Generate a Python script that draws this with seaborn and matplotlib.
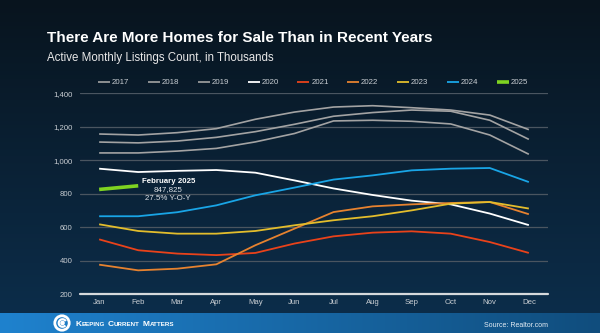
import numpy as np
import pandas as pd
import matplotlib
matplotlib.use("Agg")
import matplotlib.pyplot as plt
import seaborn as sns
from matplotlib.patches import Circle, Arc

# ---- data (thousands of active listings) ----
months = ["Jan", "Feb", "Mar", "Apr", "May", "Jun",
          "Jul", "Aug", "Sep", "Oct", "Nov", "Dec"]
years = ["2017", "2018", "2019", "2020", "2021", "2022", "2023", "2024", "2025"]

listings_2017 = [1157, 1151, 1165, 1189, 1245, 1288, 1318, 1326, 1314, 1300, 1270, 1183]
listings_2018 = [1109, 1104, 1115, 1137, 1171, 1215, 1263, 1285, 1300, 1293, 1239, 1125]
listings_2019 = [1044, 1044, 1055, 1071, 1110, 1160, 1235, 1239, 1233, 1217, 1151, 1036]
listings_2020 = [950, 930, 937, 942, 926, 880, 832, 793, 759, 737, 682, 613]
listings_2021 = [528, 463, 443, 434, 447, 503, 546, 568, 576, 562, 512, 447]
listings_2022 = [377, 343, 353, 379, 493, 592, 691, 725, 737, 745, 751, 678]
listings_2023 = [618, 578, 562, 562, 578, 612, 642, 666, 701, 741, 751, 712]
listings_2024 = [666, 666, 690, 731, 791, 837, 885, 910, 940, 950, 954, 870]
listings_2025 = [826, 847.825]

yoy_feb_2025 = 27.5
y_ticks = [200, 400, 600, 800, 1000, 1200, 1400]

series = [listings_2017, listings_2018, listings_2019, listings_2020, listings_2021,
          listings_2022, listings_2023, listings_2024, listings_2025]
colors = ["#a3a3a3", "#a3a3a3", "#a3a3a3", "#ffffff", "#e9421a",
          "#e6822f", "#e3bd2c", "#19a5e6", "#7fd321"]
widths = [1.2, 1.2, 1.2, 1.3, 1.3, 1.3, 1.3, 1.3, 2.6]

W, H = 600, 333
DPI = 100
sns.set_style("dark")
plt.rcParams["font.family"] = ["Liberation Sans", "DejaVu Sans"]

fig = plt.figure(figsize=(W / DPI, H / DPI), dpi=DPI)

# background: dark navy gradient with a blue footer band
bg = fig.add_axes([0, 0, 1, 1], zorder=0)
bg.set_xlim(0, W)
bg.set_ylim(H, 0)
bg.axis("off")
t = np.linspace(0, 1, 256)[:, None]
top = np.array([0x08, 0x14, 0x1e]) / 255
bot = np.array([0x0c, 0x2d, 0x4a]) / 255
grad = top + (bot - top) * t[..., None]
grad = np.repeat(grad, 2, axis=1)
bg.imshow(grad, extent=(0, W, 313, 0), aspect="auto", interpolation="bicubic")
u = np.linspace(0, 1, 256)[None, :]
left_c = np.array([0x1f, 0x82, 0xce]) / 255
right_c = np.array([0x10, 0x4d, 0x7d]) / 255
foot = left_c + (right_c - left_c) * u[..., None]
foot = np.repeat(foot, 2, axis=0)
bg.imshow(foot, extent=(0, W, H, 313), aspect="auto", interpolation="bicubic")

# logo mark
bg.add_patch(Circle((62, 323), 7.2, fill=False, ec="white", lw=2.0))
bg.add_patch(Arc((62.5, 323), 7.5, 7.5, theta1=40, theta2=330, ec="white", lw=1.6))
bg.add_patch(Circle((62.5, 323), 1.6, color="white"))

# small-caps brand name
fig.canvas.draw()
renderer = fig.canvas.get_renderer()
x_cursor = 75.5
for word in ["Keeping", "Current", "Matters"]:
    for part, size in [(word[0], 6.0), (word[1:].upper(), 4.5)]:
        txt = bg.text(x_cursor, 326.5, part, color="white", fontsize=size,
                      fontweight="bold", va="baseline", ha="left")
        bb = txt.get_window_extent(renderer)
        x_cursor += bb.width
    x_cursor += 3.0

bg.text(548, 325.5, "Source: Realtor.com", color="#e6eef5", fontsize=5.0,
        ha="right", va="center")

# titles
bg.text(47, 41.5, "There Are More Homes for Sale Than in Recent Years",
        color="white", fontsize=11.0, fontweight="bold", va="baseline", ha="left")
bg.text(47, 60.5, "Active Monthly Listings Count, in Thousands",
        color="#e8e8e8", fontsize=8.3, va="baseline", ha="left")

# ---- main chart ----
ax = fig.add_axes([80 / W, 1 - 294.3 / H, 468 / W, (294.3 - 93.3) / H], zorder=2)
ax.set_facecolor("none")

for yr, vals, c, lw in zip(years, series, colors, widths):
    df = pd.DataFrame({"month": np.arange(len(vals)), "listings": vals})
    sns.lineplot(data=df, x="month", y="listings", color=c, linewidth=lw,
                 label=yr, ax=ax, solid_capstyle="butt")

ax.set_xlim(-0.49, 11.49)
ax.set_ylim(200, 1400)
ax.set_xticks(range(12))
ax.set_xticklabels(months)
ax.set_yticks(y_ticks)
ax.set_yticklabels([f"{v:,}" for v in y_ticks])
ax.tick_params(axis="both", colors="#c9ced3", labelsize=5.6, length=0)
ax.tick_params(axis="y", pad=5.5)
ax.tick_params(axis="x", pad=3.5)
ax.set_xlabel("")
ax.set_ylabel("")
ax.grid(False)
for yv in y_ticks[1:]:
    ax.axhline(yv, color="#4a5560", lw=0.9, zorder=0)
ax.axhline(200, color="#d6d9dc", lw=1.6, zorder=1, clip_on=False)
for s in ax.spines.values():
    s.set_visible(False)

# callout for the latest month
feb = listings_2025[1]
ax.text(1.77, 876, "February 2025", color="white", fontsize=5.7,
        fontweight="bold", ha="center", va="center")
ax.text(1.77, 825, f"{feb * 1000:,.0f}", color="#dfe3e7", fontsize=5.7,
        ha="center", va="center")
ax.text(1.77, 773, f"{yoy_feb_2025}% Y-O-Y", color="#dfe3e7", fontsize=5.7,
        ha="center", va="center")

leg = ax.legend(ncol=9, loc="center left", bbox_to_anchor=(98 / W, 1 - 82.7 / H),
                bbox_transform=fig.transFigure, frameon=False, fontsize=5.7,
                handlelength=1.5, handletextpad=0.25, columnspacing=2.35,
                borderpad=0, borderaxespad=0)
for txt in leg.get_texts():
    txt.set_color("#c9ced3")

fig.savefig("out.png", dpi=DPI)
